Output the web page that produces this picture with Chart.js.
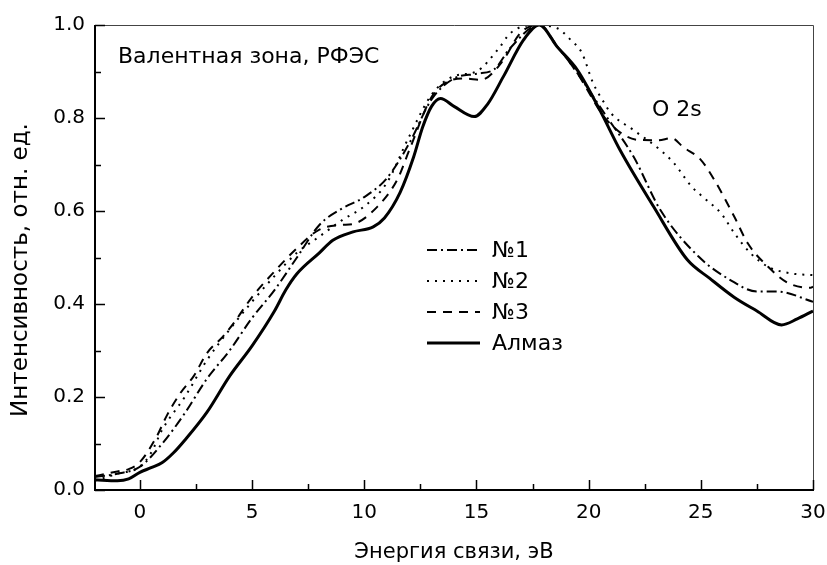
<!DOCTYPE html>
<html>
<head>
<meta charset="utf-8">
<script src="https://cdn.jsdelivr.net/npm/chart.js@4"></script>
<style>
html,body{margin:0;padding:0;background:#fff;}
#wrap{width:827px;height:565px;position:relative;}
</style>
</head>
<body>
<div id="wrap"><canvas id="c" width="827" height="565"></canvas></div>
<script>
// ---- data ----
const seriesNames = ['№1', '№2', '№3', 'Алмаз'];

const e1 = [-2, -1, 0, 1, 2, 3, 4, 5, 6, 7, 8, 9, 10, 11, 12, 13, 14, 15, 15.8, 16.5, 17.8, 18.5, 19.3, 20.8, 22, 23.2, 24.9, 26.3, 27.5, 28.4, 30];
const i1 = [0.028, 0.035, 0.05, 0.1, 0.165, 0.24, 0.3, 0.37, 0.43, 0.5, 0.57, 0.605, 0.63, 0.67, 0.745, 0.84, 0.885, 0.895, 0.905, 0.95, 1.0, 0.96, 0.91, 0.803, 0.717, 0.602, 0.502, 0.452, 0.427, 0.427, 0.405];

const e2 = [-2, -1, 0, 0.5, 1, 2, 3, 4, 5, 6, 7, 8, 9, 10, 11, 12, 13, 14, 15, 16, 16.5, 17.5, 18.6, 19.2, 19.7, 20.2, 20.7, 21, 22, 23.2, 23.8, 24.6, 25.1, 25.9, 26.5, 27.2, 28, 29, 30];
const i2 = [0.02, 0.035, 0.05, 0.08, 0.13, 0.2, 0.28, 0.345, 0.405, 0.46, 0.51, 0.545, 0.58, 0.61, 0.66, 0.76, 0.85, 0.89, 0.9, 0.95, 0.982, 1.0, 0.993, 0.968, 0.94, 0.875, 0.832, 0.81, 0.774, 0.731, 0.703, 0.652, 0.63, 0.595, 0.552, 0.51, 0.48, 0.466, 0.462];

const e3 = [-2, -1, -0.5, 0, 0.75, 1.2, 1.8, 2.4, 3, 3.7, 4.2, 5, 6, 7, 8, 9, 9.5, 10.6, 11.5, 12, 13, 13.8, 14.5, 15.2, 16.1, 17, 17.8, 18.6, 19.5, 20.8, 22.2, 23.1, 23.7, 24.2, 25, 25.6, 26.5, 27.1, 28, 28.9, 29.9, 30];
const i3 = [0.03, 0.04, 0.045, 0.06, 0.115, 0.16, 0.208, 0.245, 0.295, 0.33, 0.36, 0.415, 0.47, 0.52, 0.56, 0.57, 0.572, 0.61, 0.67, 0.73, 0.845, 0.88, 0.885, 0.882, 0.918, 0.985, 1.0, 0.955, 0.896, 0.796, 0.753, 0.752, 0.757, 0.738, 0.71, 0.667, 0.587, 0.53, 0.48, 0.445, 0.435, 0.437];

const e4 = [-2, -1, -0.5, 0, 0.5, 1, 1.5, 2, 3, 4, 5, 6, 6.5, 7, 8, 8.6, 9.5, 10.4, 10.9, 11.6, 12.2, 12.6, 13, 13.4, 14, 14.9, 15.5, 16.2, 17.1, 17.8, 18.6, 19.5, 20.5, 21.4, 22.9, 24.4, 25.4, 26.5, 27.5, 28.6, 29.3, 30];
const i4 = [0.022, 0.02, 0.024, 0.038, 0.048, 0.059, 0.08, 0.107, 0.168, 0.245, 0.31, 0.385, 0.43, 0.465, 0.51, 0.537, 0.555, 0.566, 0.585, 0.64, 0.716, 0.78, 0.825, 0.842, 0.825, 0.803, 0.83, 0.889, 0.968, 1.0, 0.953, 0.903, 0.817, 0.731, 0.609, 0.495, 0.455, 0.414, 0.385, 0.355, 0.368, 0.385];

const xTickValues = [0, 5, 10, 15, 20, 25, 30];
const yTickValues = [0, 0.2, 0.4, 0.6, 0.8, 1.0];
const xMinorValues = [-2.5, 2.5, 7.5, 12.5, 17.5, 22.5, 27.5];
const yMinorValues = [0.1, 0.3, 0.5, 0.7, 0.9];

const xTitle = 'Энергия связи, эВ';
const yTitle = 'Интенсивность, отн. ед.';
const label1 = 'Валентная зона, РФЭС';
const label2 = 'O 2s';

const FONT = '"DejaVu Sans", "Liberation Sans", Arial, sans-serif';

function pts(xs, ys) { return xs.map((x, k) => ({x: x, y: ys[k]})); }

const styles = [
  {borderDash: [10, 4, 2, 4], borderWidth: 2},
  {borderDash: [2, 6], borderWidth: 2},
  {borderDash: [9, 7], borderWidth: 2},
  {borderDash: [], borderWidth: 3}
];
const allData = [pts(e1, i1), pts(e2, i2), pts(e3, i3), pts(e4, i4)];

const datasets = seriesNames.map((n, k) => ({
  label: n,
  data: allData[k],
  borderColor: '#000',
  borderWidth: styles[k].borderWidth,
  borderDash: styles[k].borderDash,
  pointRadius: 0,
  fill: false,
  cubicInterpolationMode: 'monotone'
}));

const decor = {
  id: 'decor',
  afterDraw(chart) {
    const ctx = chart.ctx, a = chart.chartArea;
    const xs = chart.scales.x, ys = chart.scales.y;
    ctx.save();
    // frame: top and right thin
    ctx.strokeStyle = '#444';
    ctx.lineWidth = 1;
    ctx.beginPath();
    ctx.moveTo(a.left, a.top + 0.5); ctx.lineTo(a.right + 0.5, a.top + 0.5);
    ctx.lineTo(a.right + 0.5, a.bottom);
    ctx.stroke();
    // left and bottom thick
    ctx.strokeStyle = '#000';
    ctx.lineWidth = 2;
    ctx.beginPath();
    ctx.moveTo(a.left, a.top); ctx.lineTo(a.left, a.bottom); ctx.lineTo(a.right + 1, a.bottom);
    ctx.stroke();
    // inward ticks
    ctx.lineWidth = 1.5;
    ctx.beginPath();
    xTickValues.forEach(v => { const p = Math.round(xs.getPixelForValue(v)) + 0.5; ctx.moveTo(p, a.bottom); ctx.lineTo(p, a.bottom - 10); });
    xMinorValues.forEach(v => { if (v < xs.min || v > xs.max) return; const p = Math.round(xs.getPixelForValue(v)) + 0.5; ctx.moveTo(p, a.bottom); ctx.lineTo(p, a.bottom - 6); });
    yTickValues.forEach(v => { const p = Math.round(ys.getPixelForValue(v)) + 0.5; ctx.moveTo(a.left, p); ctx.lineTo(a.left + 10, p); });
    yMinorValues.forEach(v => { const p = Math.round(ys.getPixelForValue(v)) + 0.5; ctx.moveTo(a.left, p); ctx.lineTo(a.left + 6, p); });
    ctx.stroke();
    // y axis title
    ctx.fillStyle = '#000';
    ctx.save();
    ctx.translate(21, a.top + 245);
    ctx.rotate(-Math.PI / 2);
    ctx.font = '23px ' + FONT;
    ctx.textAlign = 'center';
    ctx.textBaseline = 'middle';
    ctx.fillText(yTitle, 0, 0);
    ctx.restore();
    // annotations
    ctx.font = '22px ' + FONT;
    ctx.textBaseline = 'alphabetic';
    ctx.textAlign = 'left';
    ctx.fillText(label1, a.left + 23, a.top + 38);
    ctx.fillText(label2, a.left + 557, a.top + 91);
    // legend
    const lx0 = a.left + 332, lx1 = a.left + 385, tx = a.left + 397;
    const rows = [a.top + 225, a.top + 256, a.top + 287, a.top + 318];
    chart.data.datasets.forEach((ds, k) => {
      ctx.setLineDash(ds.borderDash);
      ctx.lineWidth = ds.borderWidth;
      ctx.strokeStyle = '#000';
      ctx.beginPath();
      ctx.moveTo(lx0, rows[k]); ctx.lineTo(lx1, rows[k]);
      ctx.stroke();
      ctx.setLineDash([]);
      ctx.textBaseline = 'middle';
      ctx.fillText(ds.label, tx, rows[k] + 1);
    });
    ctx.restore();
  }
};

new Chart(document.getElementById('c'), {
  type: 'line',
  data: {datasets: datasets},
  plugins: [decor],
  options: {
    responsive: false,
    animation: false,
    layout: {padding: {left: 0, right: 14, top: 25, bottom: 0}},
    plugins: {legend: {display: false}, tooltip: {enabled: false}},
    scales: {
      x: {
        type: 'linear', min: -2, max: 30,
        grid: {display: false, drawTicks: false},
        border: {display: false},
        afterBuildTicks(s) { s.ticks = xTickValues.map(v => ({value: v})); },
        afterFit(s) { s.height = 75; s.paddingLeft = 0; s.paddingRight = 0; },
        ticks: {color: '#000', font: {size: 20, family: FONT}, padding: 11, maxRotation: 0, autoSkip: false,
          callback: v => String(v)},
        title: {display: true, text: xTitle, color: '#000', font: {size: 21, family: FONT}, padding: {top: 0, bottom: 0}}
      },
      y: {
        type: 'linear', min: 0, max: 1,
        grid: {display: false, drawTicks: false},
        border: {display: false},
        afterBuildTicks(s) { s.ticks = yTickValues.map(v => ({value: v})); },
        afterFit(s) { s.width = 95; s.paddingTop = 0; s.paddingBottom = 0; },
        ticks: {color: '#000', font: {size: 20, family: FONT}, padding: 10,
          callback: v => Number(v).toFixed(1)},
        title: {display: false}
      }
    }
  }
});
</script>
</body>
</html>
